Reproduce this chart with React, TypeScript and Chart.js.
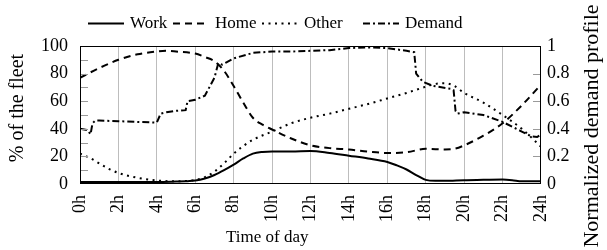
import React, { useEffect, useRef } from "react";
import { Chart, registerables } from "chart.js";

Chart.register(...registerables);

// ---------- data ----------
const seriesNames = ["Work", "Home", "Other", "Demand"];

const xTickHours = [0, 2, 4, 6, 8, 10, 12, 14, 16, 18, 20, 22, 24];
const xTickLabels = ["0h", "2h", "4h", "6h", "8h", "10h", "12h", "14h", "16h", "18h", "20h", "22h", "24h"];
const leftTickValues = [0, 20, 40, 60, 80, 100];
const leftTickLabels = ["0", "20", "40", "60", "80", "100"];
const rightTickValues = [0, 0.2, 0.4, 0.6, 0.8, 1];
const rightTickLabels = ["0", "0.2", "0.4", "0.6", "0.8", "1"];

const workHours = [0, 1, 2, 3, 4, 5, 5.5, 6, 6.5, 7, 7.5, 8, 8.5, 9, 9.5, 10, 11, 12, 13, 14, 15, 16, 16.5, 17, 17.5, 18, 18.5, 19, 20, 21, 22, 22.5, 23, 24];
const workValues = [1.5, 1.5, 1.5, 1.5, 1.5, 1.8, 2, 2.5, 4, 6.5, 10, 14, 18.5, 22, 23.2, 23.5, 23.5, 24, 22.5, 20.5, 18.5, 16, 13.5, 10.5, 6.5, 3, 2.3, 2.3, 2.8, 3, 3.2, 2.8, 2, 2];

const homeHours = [0, 1, 2, 3, 4, 4.5, 5, 6, 6.5, 7, 7.5, 8, 8.5, 9, 9.5, 10, 11, 12, 13, 14, 15, 16, 17, 18, 19, 19.5, 20, 21, 22, 23, 24];
const homeValues = [77, 84, 90, 94, 96, 96.5, 96, 94.5, 92, 89, 82, 71, 59, 48, 43, 39.5, 33, 28, 26, 25, 23.5, 22.5, 23, 25.5, 25, 25.5, 28, 35, 44, 57, 72];

const otherHours = [0, 0.5, 1, 1.5, 2, 3, 4, 5, 6, 6.5, 7, 7.5, 8, 8.5, 9, 10, 11, 12, 13, 14, 15, 16, 17, 18, 18.5, 19, 19.5, 20, 21, 22, 23, 24];
const otherValues = [22, 19, 15, 11, 8, 4.5, 2.5, 2, 3, 5, 9, 15, 22, 27.5, 32, 38, 44, 48, 51, 54.5, 58, 62, 66, 70.5, 72.5, 73, 71, 66, 59, 50, 40, 27];

const demandHours = [0, 0.4, 0.55, 0.65, 0.8, 1, 2, 3, 4, 4.2, 4.5, 5, 5.5, 5.6, 6, 6.5, 7, 7.2, 7.4, 7.6, 8, 9, 10, 11, 12, 13, 14, 15, 16, 17, 17.4, 17.5, 17.85, 18.4, 19.3, 19.45, 19.55, 19.65, 20, 21, 22, 23, 23.5, 23.8, 24];
const demandValues = [0.4, 0.39, 0.36, 0.44, 0.46, 0.46, 0.455, 0.45, 0.445, 0.51, 0.52, 0.53, 0.535, 0.6, 0.61, 0.64, 0.77, 0.875, 0.865, 0.88, 0.91, 0.95, 0.96, 0.96, 0.965, 0.97, 0.985, 0.99, 0.985, 0.965, 0.955, 0.8, 0.74, 0.71, 0.69, 0.68, 0.53, 0.51, 0.52, 0.5, 0.45, 0.38, 0.345, 0.34, 0.36];

// ---------- styles ----------
const SERIF = "'Liberation Serif', 'DejaVu Serif', serif";
const dashes: number[][] = [[], [7, 5], [2, 4.5], [7, 3, 2, 3]];

const toPoints = (xs: number[], ys: number[]) => xs.map((x, i) => ({ x, y: ys[i] }));

const decorPlugin = {
  id: "decor",
  afterDatasetsDraw(chart: any) {
    const { ctx, chartArea } = chart;
    const { left, right, top, bottom } = chartArea;
    const yL = chart.scales.y;
    const yR = chart.scales.y1;
    ctx.save();
    ctx.strokeStyle = "#9a9a9a";
    ctx.lineWidth = 1;
    ctx.beginPath();
    for (let v = 10; v < 100; v += 10) {
      const py = Math.round(yL.getPixelForValue(v)) + 0.5;
      ctx.moveTo(left, py);
      ctx.lineTo(left + 8, py);
    }
    for (const v of rightTickValues) {
      if (v <= 0 || v >= 1) continue;
      const py = Math.round(yR.getPixelForValue(v)) + 0.5;
      ctx.moveTo(right, py);
      ctx.lineTo(right - 8, py);
    }
    ctx.stroke();
    ctx.strokeStyle = "#000";
    ctx.lineWidth = 1;
    ctx.strokeRect(Math.round(left) + 0.5, Math.round(top) + 0.5, Math.round(right - left) - 1, Math.round(bottom - top) - 1);
    ctx.restore();
  },
  afterDraw(chart: any) {
    const { ctx } = chart;
    ctx.save();
    ctx.fillStyle = "#000";
    ctx.font = `17px ${SERIF}`;
    ctx.textAlign = "left";
    ctx.textBaseline = "alphabetic";
    ctx.fillText("Time of day", 226, 242);

    ctx.save();
    ctx.font = `20px ${SERIF}`;
    ctx.translate(23, 108);
    ctx.rotate(-Math.PI / 2);
    ctx.textAlign = "center";
    ctx.fillText("% of the fleet", 0, 0);
    ctx.restore();

    ctx.save();
    ctx.font = `22px ${SERIF}`;
    ctx.translate(598, 126);
    ctx.rotate(-Math.PI / 2);
    ctx.textAlign = "center";
    ctx.fillText("Normalized demand profile", 0, 0);
    ctx.restore();

    const starts = [88, 173, 262, 363];
    ctx.font = `17px ${SERIF}`;
    chart.data.datasets.forEach((ds: any, i: number) => {
      const x0 = starts[i];
      ctx.save();
      ctx.strokeStyle = "#000";
      ctx.lineWidth = 2;
      ctx.setLineDash(dashes[i]);
      ctx.beginPath();
      ctx.moveTo(x0, 23.5);
      ctx.lineTo(x0 + 36, 23.5);
      ctx.stroke();
      ctx.restore();
      ctx.fillText(ds.label, x0 + 42, 28);
    });
    ctx.restore();
  },
};

export default function App() {
  const canvasRef = useRef<HTMLCanvasElement | null>(null);

  useEffect(() => {
    document.body.style.margin = "0";
    let chart: any = null;
    let cancelled = false;
    const build = () => {
      const canvas = canvasRef.current;
      if (!canvas || cancelled) return;
      const tickFont = { family: SERIF, size: 18 };
      const values = [
        toPoints(workHours, workValues),
        toPoints(homeHours, homeValues),
        toPoints(otherHours, otherValues),
        toPoints(demandHours, demandValues),
      ];
      chart = new Chart(canvas, {
        type: "line",
        data: {
          datasets: seriesNames.map((name, i) => ({
            label: name,
            data: values[i],
            yAxisID: i === 3 ? "y1" : "y",
            borderColor: "#000",
            backgroundColor: "#000",
            borderWidth: 2,
            borderDash: dashes[i],
            pointRadius: 0,
            fill: false,
            cubicInterpolationMode: i === 3 ? "default" : "monotone",
            tension: i === 3 ? 0 : 0.4,
          })),
        },
        options: {
          responsive: false,
          animation: false,
          devicePixelRatio: 1,
          layout: { padding: { top: 46, left: 0, right: 0, bottom: 0 } },
          plugins: { legend: { display: false }, tooltip: { enabled: false }, title: { display: false } },
          scales: {
            x: {
              type: "linear",
              min: 0,
              max: 24,
              afterBuildTicks: (scale: any) => {
                scale.ticks = xTickHours.map((v) => ({ value: v }));
              },
              afterFit: (scale: any) => {
                scale.height = 66;
              },
              ticks: {
                autoSkip: false,
                maxRotation: 90,
                minRotation: 90,
                padding: 11,
                color: "#000",
                font: tickFont,
                callback: (v: any) => {
                  const idx = xTickHours.indexOf(Number(v));
                  return idx >= 0 ? xTickLabels[idx] : "";
                },
              },
              grid: {
                drawTicks: false,
                lineWidth: 1,
                color: (c: any) => (c.tick && (c.tick.value === 0 || c.tick.value === 24) ? "rgba(0,0,0,0)" : "#bdbdbd"),
              },
              border: { display: false },
            },
            y: {
              type: "linear",
              position: "left",
              min: 0,
              max: 100,
              afterBuildTicks: (scale: any) => {
                scale.ticks = leftTickValues.map((v) => ({ value: v }));
              },
              afterFit: (scale: any) => {
                scale.width = 80;
              },
              ticks: {
                padding: 12,
                color: "#000",
                font: tickFont,
                callback: (v: any) => {
                  const idx = leftTickValues.indexOf(Number(v));
                  return idx >= 0 ? leftTickLabels[idx] : "";
                },
              },
              grid: { display: false, drawTicks: false },
              border: { display: false },
            },
            y1: {
              type: "linear",
              position: "right",
              min: 0,
              max: 1,
              afterBuildTicks: (scale: any) => {
                scale.ticks = rightTickValues.map((v) => ({ value: v }));
              },
              afterFit: (scale: any) => {
                scale.width = 66;
              },
              ticks: {
                padding: 6,
                color: "#000",
                font: tickFont,
                callback: (v: any) => {
                  const idx = rightTickValues.findIndex((t) => Math.abs(t - Number(v)) < 1e-9);
                  return idx >= 0 ? rightTickLabels[idx] : "";
                },
              },
              grid: { display: false, drawTicks: false },
              border: { display: false },
            },
          },
        },
        plugins: [decorPlugin],
      } as any);
    };
    const fontsApi: any = (document as any).fonts;
    if (fontsApi && fontsApi.load) {
      Promise.all([fontsApi.load("17px 'Liberation Serif'")])
        .catch(() => null)
        .then(build);
    } else {
      build();
    }
    return () => {
      cancelled = true;
      if (chart) chart.destroy();
    };
  }, []);

  return (
    <div style={{ position: "absolute", left: 0, top: 0, width: 607, height: 250 }}>
      <canvas ref={canvasRef} width={607} height={250} style={{ width: 607, height: 250, display: "block" }} />
    </div>
  );
}
